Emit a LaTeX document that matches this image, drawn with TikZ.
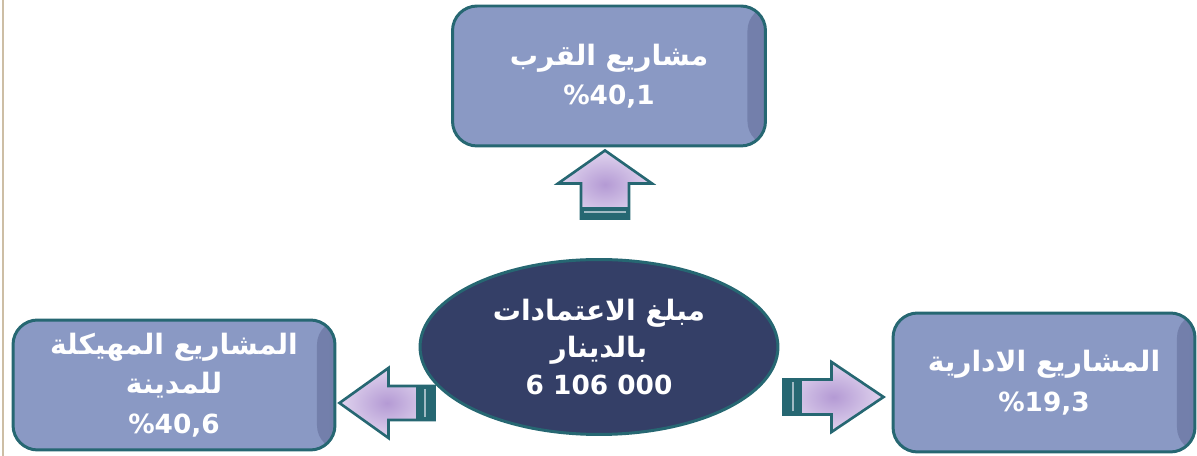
\documentclass[tikz,border=0pt]{standalone}
\usepackage{fontspec}
\usepackage{xcolor}
\usepackage{tikz}
\usetikzlibrary{shapes.geometric,calc}
\TeXXeTstate=1
\newfontfamily\arabicfont[Script=Arabic]{DejaVu Sans}
\newcommand{\arline}[1]{{\fontsize{16}{22.5}\selectfont\beginR#1\endR}}

\tikzset{
  projbox/.style={draw=tealline, line width=1.7pt, fill=boxblue,
    rounded corners=14pt, text=white, align=center,
    font=\arabicfont\bfseries\fontsize{15}{22.5}\selectfont,
    path picture={\shade[left color=boxblue, right color=boxshade]
      ($(path picture bounding box.north east)+(-18,0)$)
      rectangle (path picture bounding box.south east);}},
  sumoval/.style={ellipse, draw=tealline, line width=1.7pt, fill=navyfill,
    text=white, align=center, inner sep=0pt,
    font=\arabicfont\bfseries\fontsize{15}{21}\selectfont},
  tailline/.style={draw=stripegrey, line width=1.1pt}
}

% #1 tip, #2 angle, #3 length, #4 head length, #5 head half, #6 shaft half, #7 tail
\newcommand{\blockarrow}[7]{%
  \begin{scope}[shift={(#1)}, rotate=#2]
    \draw[tealline, line width=1.5pt, inner color=arrowmid, outer color=arrowedge]
      (0,0) -- (-#4,#5) -- (-#4,#6) -- (-#3,#6) -- (-#3,-#6) -- (-#4,-#6)
      -- (-#4,-#5) -- cycle;
    \fill[tealline] (-#3,-#6) rectangle (-#3+#7,#6);
    \draw[tailline] (-#3+0.55*#7,-#6+3) -- (-#3+0.55*#7,#6-3);
  \end{scope}}

\begin{document}
\begin{tikzpicture}[x=0.02cm, y=0.02cm]
  % colours
  \definecolor{boxblue}{RGB}{138,153,196}
  \definecolor{boxshade}{RGB}{114,126,170}
  \definecolor{tealline}{RGB}{38,103,114}
  \definecolor{navyfill}{RGB}{52,63,103}
  \definecolor{arrowmid}{RGB}{180,154,212}
  \definecolor{arrowedge}{RGB}{224,212,238}
  \definecolor{stripegrey}{RGB}{160,185,196}
  \definecolor{pageedge}{RGB}{205,190,165}

  \useasboundingbox (0,0) rectangle (1197,456);
  \draw[pageedge, line width=0.6pt] (3,0) -- (3,456);

  % centre
  \node[sumoval, minimum width=7.16cm, minimum height=3.5cm] (mablagh) at (599,109)
    {\arline{مبلغ الاعتمادات}\\\arline{بالدينار}\\6 106 000};

  % boxes
  \node[projbox, minimum width=6.26cm, minimum height=2.8cm] (qurb) at (609,380)
    {\arline{مشاريع القرب}\\\%40,1};
  \node[projbox, minimum width=6.44cm, minimum height=2.6cm] (haykala) at (174,71)
    {\arline{المشاريع المهيكلة}\\\arline{للمدينة}\\\%40,6};
  \node[projbox, minimum width=6.04cm, minimum height=2.78cm] (idara) at (1044,73.5)
    {\arline{المشاريع الادارية}\\\%19,3};

  % arrows
  \coordinate (tipq) at ($(qurb.south)+(-4,-3)$);
  \coordinate (tiph) at ($(haykala.east)+(3,-18)$);
  \coordinate (tipi) at ($(idara.west)+(-8,-14.5)$);
  \blockarrow{tipq}{90}{68}{33}{47}{24}{11}
  \blockarrow{tiph}{180}{95}{49}{35}{17}{18}
  \blockarrow{tipi}{0}{100}{52}{35}{17.5}{18}
\end{tikzpicture}
\end{document}
